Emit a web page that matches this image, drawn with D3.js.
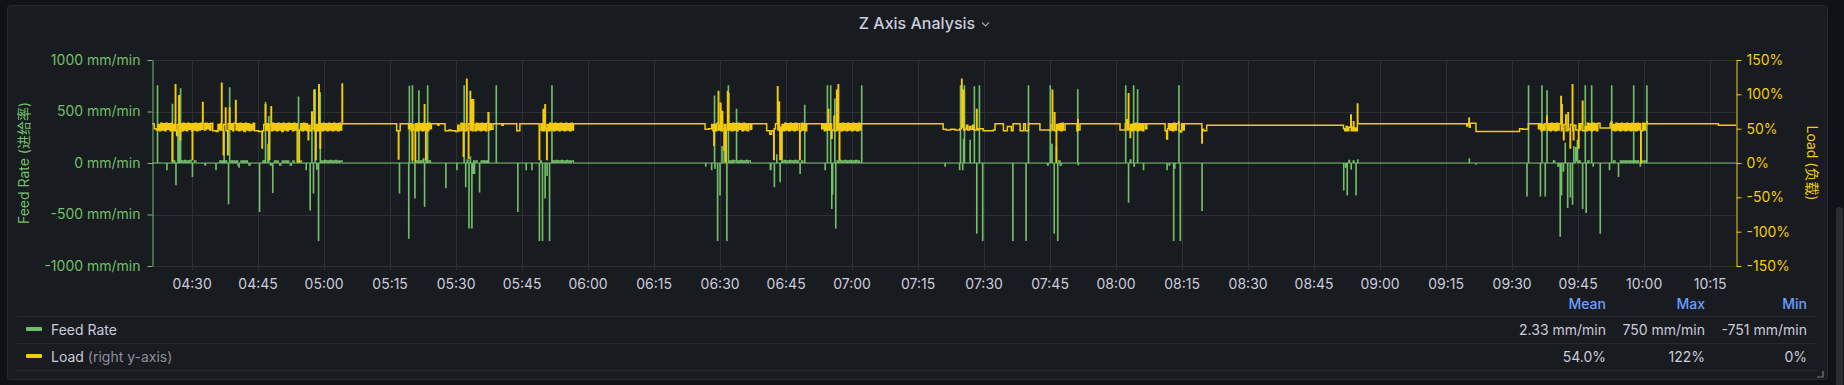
<!DOCTYPE html>
<html><head><meta charset="utf-8">
<script src="https://cdn.jsdelivr.net/npm/d3@7"></script>
<style>
html,body{margin:0;padding:0;background:#111217;overflow:hidden;}
svg{display:block;font-family:Inter,"Noto Sans CJK SC",sans-serif;}
</style></head><body><svg id="c" width="1844" height="385"></svg>
<script>
// ---------- data (time = minutes after 04:00) ----------
const timeTicks = ["04:30","04:45","05:00","05:15","05:30","05:45","06:00","06:15","06:30","06:45","07:00","07:15","07:30","07:45","08:00","08:15","08:30","08:45","09:00","09:15","09:30","09:45","10:00","10:15"];
const feedTicks = [-1000,-500,0,500,1000];
const loadTicks = [-150,-100,-50,0,50,100,150];
const timeRange = [21, 381];
const seriesNames = ["Feed Rate","Load"];
const legendColumns = ["Mean","Max","Min"];
const feedStats = ["2.33 mm/min","750 mm/min","-751 mm/min"];
const loadStats = ["54.0%","122%","0%"];

const feedRate = [
[21.0,0],[22.2,750],[22.3,0],[24.35,-65],[24.45,0],[25.6,570],[25.7,0],[26.0,20],[26.2,0],[26.4,-210],[26.5,0],
[26.85,310],[26.95,0],[27.2,450],[27.3,0],[27.45,720],[27.55,0],[27.8,20],[28.1,0],[28.4,25],[28.7,0],[29.0,20],[29.3,0],[29.6,25],[29.9,0],
[30.15,-130],[30.25,0],[30.6,20],[31.0,0],[33.0,-20],[33.2,0],[35.5,-65],[35.6,0],[36.4,20],[36.7,0],[37.0,20],[37.2,0],
[37.35,300],[37.45,0],[37.7,20],[38.0,0],[38.35,-395],[38.45,0],[38.6,730],[38.7,0],[39.0,20],[39.3,0],[39.6,20],[39.9,0],[40.2,20],[40.5,-20],
[40.75,-40],[40.85,0],[41.2,20],[41.5,0],[41.8,20],[42.1,0],[42.4,20],[42.7,0],[43.0,-20],[43.3,0],[45.4,-470],[45.5,0],[46.2,20],[46.5,0],
[46.75,590],[46.85,0],[47.3,180],[47.4,0],[47.5,450],[47.6,0],[47.9,-20],[48.1,0],[48.4,-285],[48.5,0],[48.8,20],[49.1,0],[49.4,20],[49.7,0],
[50.0,-20],[50.3,0],[50.6,20],[50.9,0],[51.2,20],[51.5,0],[51.8,20],[52.1,0],[52.4,-20],[52.7,0],[53.0,20],[53.3,0],[54.25,640],[54.35,0],
[54.7,20],[55.0,0],[56.0,-65],[56.1,0],[56.9,-455],[57.0,0],[57.3,500],[57.4,0],[57.65,-290],[57.75,0],[58.05,710],[58.15,0],[58.4,-60],[58.5,0],
[58.8,-751],[58.9,0],[59.2,680],[59.3,0],[59.6,20],[59.9,0],[60.2,25],[60.5,0],[60.8,20],[61.1,0],[61.4,25],[61.7,0],[62.0,20],[62.3,0],
[62.6,25],[62.9,0],[63.2,20],[63.5,0],[63.8,20],[64.2,0],
[77.2,-290],[77.3,0],[79.3,-730],[79.4,0],[79.45,745],[79.55,0],[80.15,750],[80.25,0],[80.7,-340],[80.8,0],[81.0,20],[81.3,0],[81.6,700],[81.7,0],
[82.0,20],[82.3,0],[82.6,40],[82.8,0],[82.9,-420],[83.0,0],[83.25,100],[83.35,0],[83.6,750],[83.7,0],[84.0,20],[84.3,0],[87.75,-240],[87.85,0],
[90.25,-65],[90.35,0],[91.9,750],[92.0,0],[92.25,-230],[92.35,0],[92.6,30],[92.8,0],[93.0,-630],[93.1,0],[93.3,60],[93.4,0],[93.65,-630],[93.75,0],
[94.0,-100],[94.1,20],[94.25,-100],[94.35,0],[94.6,20],[94.9,0],[95.4,-280],[95.5,0],[95.8,20],[96.1,0],[96.4,20],[96.7,0],[97.0,20],[97.2,0],
[97.45,490],[97.55,0],[99.2,750],[99.3,0],[104.1,-470],[104.2,0],[106.0,-65],[106.1,0],[107.3,-65],[107.4,0],[109.0,-751],[109.1,0],[109.3,20],[109.5,0],
[109.7,-751],[109.8,0],[110.3,-340],[110.4,0],[110.75,-120],[110.85,0],[111.3,-751],[111.4,0],[111.85,750],[111.95,0],[112.2,20],[112.5,0],[112.8,25],[113.1,0],
[113.4,20],[113.7,0],[114.0,25],[114.3,0],[114.6,20],[114.9,0],[115.2,25],[115.5,0],[115.8,20],[116.1,0],[116.4,20],[116.8,0],
[146.8,-30],[146.9,0],[148.15,-65],[148.25,0],[148.8,650],[148.9,-50],[149.0,0],[149.5,-751],[149.6,0],[150.05,-310],[150.15,0],[150.5,160],[150.6,0],
[151.0,150],[151.1,0],[151.6,-751],[151.7,0],[151.95,750],[152.05,0],[152.3,20],[152.6,0],[152.9,25],[153.2,0],[153.5,20],[153.8,520],[153.9,0],
[154.2,20],[154.5,0],[154.8,25],[155.1,0],[155.4,20],[155.7,0],[156.0,25],[156.3,0],[156.6,20],[157.0,0],[161.5,-65],[161.7,0],[162.4,-230],[162.5,0],
[162.95,80],[163.05,0],[163.7,-180],[163.8,0],[164.1,20],[164.4,0],[164.7,25],[165.0,0],[165.3,20],[165.6,0],[165.9,25],[166.2,0],[166.5,20],[166.8,0],
[167.1,25],[167.4,0],[167.7,20],[168.0,0],[168.25,-100],[168.35,0],[168.6,20],[168.9,0],[169.3,560],[169.4,0],[173.95,-65],[174.05,0],[174.45,750],[174.55,0],
[175.2,750],[175.3,0],[175.45,-440],[175.55,0],[175.65,-300],[175.75,0],[176.15,620],[176.25,0],[176.35,-630],[176.45,0],[176.7,20],[177.0,0],[177.3,25],[177.6,0],
[177.9,20],[178.2,0],[178.5,25],[178.8,0],[179.1,20],[179.4,0],[179.7,25],[180.0,0],[180.3,20],[180.6,0],[180.9,25],[181.2,0],[181.5,20],[181.8,0],
[182.25,750],[182.35,0],
[201.2,-30],[201.3,0],[204.5,-65],[204.6,0],[204.7,750],[204.8,0],[205.2,-65],[205.3,0],[205.4,230],[205.5,0],[205.6,750],[205.7,0],[206.9,220],[207.0,0],
[207.85,740],[207.95,0],[208.4,-680],[208.5,0],[209.0,750],[209.1,0],[209.75,-751],[209.85,0],[216.6,-751],[216.7,0],[219.6,-751],[219.7,0],[220.15,750],[220.25,0],
[224.5,-20],[224.7,0],[225.1,750],[225.2,0],[225.5,180],[225.6,0],[226.0,-680],[226.1,0],[226.5,160],[226.6,0],[226.8,-751],[226.9,0],[227.1,20],[227.4,-20],[227.7,0],
[231.35,710],[231.45,-15],[231.6,0],[242.25,750],[242.35,0],[242.9,-380],[243.0,0],[243.3,30],[243.5,0],[244.05,750],[244.15,-30],[244.3,0],[244.95,710],[245.05,0],
[246.3,-65],[246.4,0],[251.65,-65],[251.75,0],[252.15,-20],[252.3,0],[253.15,-751],[253.25,0],[253.4,-50],[253.5,0],[254.35,750],[254.45,0],[254.65,-751],[254.75,0],
[259.6,-460],[259.7,0],
[291.8,-260],[291.9,0],[292.25,-40],[292.4,0],[292.6,-310],[292.7,0],[293.0,25],[293.2,0],[293.5,-60],[293.6,0],[294.0,20],[294.2,0],[294.6,-310],[294.7,0],[295.0,30],[295.1,0],
[320.35,40],[320.45,0],[321.9,-10],[322.0,0],[333.45,-320],[333.55,0],[333.8,750],[333.9,0],[336.5,-320],[336.6,0],[336.85,750],[336.95,0],[337.6,-320],[337.7,0],
[338.0,700],[338.1,0],[339.5,20],[339.8,0],[340.5,-30],[340.7,0],[341.0,-710],[341.1,0],[341.3,-310],[341.4,0],[341.75,-80],[341.85,0],[342.15,190],[342.25,0],
[342.7,-430],[342.8,0],[343.3,-330],[343.4,0],[343.8,-400],[343.9,0],[344.1,160],[344.2,0],[344.55,150],[344.65,20],[344.9,220],[345.0,0],[345.3,20],[345.6,0],
[346.1,-440],[346.2,0],[346.7,750],[346.8,0],[346.9,-480],[347.0,0],[347.3,20],[347.6,0],[348.15,750],[348.25,0],[348.5,-30],[348.6,0],[350.1,-680],[350.2,0],
[352.2,-65],[352.3,0],[352.7,750],[352.8,0],[353.2,20],[353.5,0],[354.25,-130],[354.35,0],[354.7,20],[355.0,0],[355.3,20],[355.6,0],[355.9,20],[356.2,0],
[356.5,20],[356.8,0],[357.1,20],[357.4,0],[357.7,750],[357.8,0],[358.0,20],[358.3,0],[358.6,20],[358.9,0],[359.2,-30],[359.3,0],[359.6,20],[359.9,0],
[360.2,20],[360.5,0],[360.7,750],[360.8,0],[381.0,0]
];

const load = [
[21.0,57],[21.5,50],[22.0,48],[22.4,56],[22.7,47],[23.0,58],[23.3,48],[23.6,57],[23.9,47],[24.2,58],[24.5,49],[24.8,57],[25.1,47],[25.4,58],[25.6,3],[25.7,56],
[26.0,47],[26.3,114],[26.4,48],[26.6,40],[26.8,56],[27.1,98],[27.2,47],[27.4,34],[27.5,57],[27.8,47],[28.1,58],[28.3,48],[28.6,57],[28.8,47],[29.1,58],[29.4,49],
[29.7,57],[30.0,47],[30.15,5],[30.25,57],[30.5,48],[30.8,58],[31.1,47],[31.4,57],[31.7,48],[32.0,58],[32.3,49],[32.5,88],[32.6,57],[32.9,48],[33.2,58],[33.5,50],
[33.8,57],[34.1,48],[34.4,58],[34.8,47],[35.6,46],[36.0,56],[36.3,48],[36.6,57],[36.8,116],[36.9,48],[37.2,12],[37.3,56],[37.7,80],[37.8,47],[38.2,12],[38.3,57],
[38.6,80],[38.7,49],[39.0,57],[39.3,47],[39.6,58],[40.0,91],[40.1,48],[40.4,57],[40.7,47],[41.0,58],[41.3,48],[41.6,57],[41.9,46],[42.2,58],[42.5,48],[42.8,57],
[43.1,47],[43.4,56],[43.7,48],[44.0,58],[44.3,47],[45.2,46],[46.0,22],[46.1,47],[46.4,56],[46.75,85],[46.85,48],[47.1,57],[47.4,47],[47.65,5],[47.75,56],[48.05,82],
[48.15,47],[48.4,58],[48.7,48],[49.0,57],[49.3,47],[49.6,58],[49.9,48],[50.2,57],[50.5,46],[50.8,58],[51.1,48],[51.4,57],[51.7,47],[52.0,58],[52.3,49],[52.6,57],
[52.9,47],[53.2,58],[53.5,48],[53.8,57],[54.0,2],[54.5,48],[54.8,57],[55.1,47],[55.4,58],[55.7,48],[56.0,57],[56.3,47],[56.5,34],[56.6,55],[56.9,47],[57.3,73],
[57.4,50],[57.8,106],[57.9,47],[58.2,5],[58.3,56],[58.6,47],[58.9,114],[59.0,48],[59.2,22],[59.3,57],[59.6,47],[59.9,58],[60.2,48],[60.5,57],[60.8,47],[61.1,58],
[61.4,48],[61.7,57],[62.0,47],[62.3,58],[62.6,48],[62.9,57],[63.2,47],[63.5,58],[63.8,48],[64.1,56],[64.2,115],[64.3,57],
[76.6,47],[77.0,6],[77.1,47],[77.4,57],
[79.3,50],[79.6,57],[79.9,47],[80.15,5],[80.25,56],[80.5,48],[80.8,2],[80.9,57],[81.2,47],[81.5,58],[81.8,48],[82.1,57],[82.4,47],[82.7,58],[82.9,85],[83.0,48],
[83.2,5],[83.3,57],[83.6,47],[83.9,58],[84.2,50],[84.5,57],[86.0,55],[86.2,57],[87.6,47],[88.5,48],[89.0,47],[90.0,46],[90.5,55],[90.8,47],[91.2,58],[91.5,48],
[91.75,10],[91.85,57],[92.1,47],[92.5,122],[92.6,49],[92.9,7],[93.0,57],[93.3,104],[93.4,48],[93.65,92],[93.75,47],[94.0,92],[94.1,56],[94.4,47],[94.7,58],[95.0,48],
[95.3,57],[95.6,47],[95.9,58],[96.2,48],[96.5,57],[96.8,47],[97.1,58],[97.4,73],[97.5,48],[97.8,57],[98.1,49],[98.5,57],[100.5,55],[100.8,57],[103.9,47],[104.6,57],
[109.0,5],[109.1,48],[109.4,57],[109.7,47],[109.9,78],[110.0,47],[110.3,85],[110.4,50],[110.7,5],[110.8,56],[111.1,47],[111.4,58],[111.7,48],[112.0,57],[112.3,47],
[112.6,58],[112.9,48],[113.2,57],[113.5,47],[113.8,58],[114.1,48],[114.4,57],[114.7,47],[115.0,58],[115.3,48],[115.6,57],[115.9,47],[116.2,58],[116.5,48],[116.8,57],
[146.7,49],[147.5,50],[148.2,56],[148.5,47],[148.7,26],[148.8,56],[149.1,47],[149.4,58],[149.7,104],[149.8,48],[150.0,55],[150.2,87],[150.3,47],[150.6,75],[150.7,50],
[151.0,19],[151.1,56],[151.4,2],[151.5,48],[151.8,104],[151.9,56],[152.0,101],[152.1,48],[152.4,57],[152.7,47],[153.0,58],[153.3,48],[153.6,57],[153.9,47],[154.2,58],
[154.5,49],[154.8,57],[155.1,47],[155.4,58],[155.7,48],[156.0,57],[156.3,47],[156.6,57],[157.0,49],[157.3,57],[160.7,47],[161.4,42],[161.8,47],[162.3,5],[162.4,50],
[162.7,57],[163.15,111],[163.25,48],[163.5,89],[163.6,47],[163.7,5],[163.8,52],[164.1,5],[164.2,56],[164.5,47],[164.8,58],[165.1,48],[165.4,57],[165.7,47],[166.0,58],
[166.3,48],[166.6,57],[166.9,47],[167.2,58],[167.5,48],[167.8,57],[168.2,5],[168.3,47],[168.6,58],[168.9,48],[169.2,57],[169.5,47],[169.8,57],[173.2,50],[173.5,57],
[173.8,47],[174.1,57],[174.4,48],[174.7,78],[174.8,48],[175.1,57],[175.45,36],[175.55,48],[176.0,68],[176.1,47],[176.6,106],[176.7,48],[176.95,114],[177.05,50],[177.2,5],
[177.3,57],[177.6,47],[177.9,58],[178.2,48],[178.5,57],[178.8,47],[179.1,58],[179.4,48],[179.7,57],[180.0,47],[180.3,58],[180.6,48],[180.9,57],[181.2,47],[181.5,58],
[181.8,48],[182.1,57],
[200.8,49],[201.5,48],[202.5,49],[203.5,48],[204.6,50],[205.0,122],[205.1,52],[205.4,106],[205.5,48],[205.75,49],[206.1,55],[206.4,48],[206.8,53],[207.1,49],[207.5,55],
[207.8,48],[208.4,78],[208.5,48],[208.8,50],[209.9,47],[212.2,48],[212.6,57],[214.5,47],[215.4,53],[216.3,47],[216.7,57],[218.3,47],[219.1,57],[219.5,47],[220.2,57],
[222.8,48],[225.1,47],[225.3,55],[225.6,106],[225.7,48],[226.1,73],[226.2,47],[226.5,2],[226.6,56],[226.9,48],[227.2,57],[227.5,47],[227.8,58],[228.1,48],[228.5,57],
[231.2,47],[231.4,63],[231.5,48],[231.9,57],[241.0,48],[242.2,57],[242.5,63],[242.6,48],[242.9,101],[243.0,50],[243.3,37],[243.4,56],[243.7,47],[244.0,57],[244.3,48],
[244.6,58],[244.9,47],[245.2,57],[245.5,48],[245.8,57],[246.1,47],[246.4,57],[246.8,50],[247.1,57],[251.25,47],[251.6,35],[251.8,50],[252.0,57],[252.3,48],[252.6,57],
[252.9,47],[253.2,58],[253.5,48],[253.8,57],[254.3,60],[254.4,47],[254.7,45],[255.0,57],[255.3,48],[255.6,57],[259.6,29],[259.7,49],[260.0,47],[260.7,55],
[291.8,50],[292.1,47],[292.4,53],[292.7,47],[293.0,52],[293.45,70],[293.55,47],[293.8,52],[294.05,60],[294.15,47],[294.4,51],[294.7,47],[294.95,86],[295.05,57],
[319.8,54],[320.0,57],[320.3,65],[320.4,52],[320.6,58],[321.9,46],[331.8,50],[332.5,49],[333.8,57],[336.1,50],[336.4,57],[336.7,47],[337.0,56],[337.3,48],[337.6,57],
[338.0,68],[338.1,48],[338.4,57],[338.7,47],[339.0,58],[339.3,48],[339.6,57],[339.9,47],[340.2,58],[340.5,48],[340.8,57],[341.2,97],[341.3,47],[341.4,85],[341.5,50],
[341.8,34],[341.9,56],[342.3,70],[342.4,47],[342.8,73],[342.9,49],[343.3,22],[343.4,56],[343.8,114],[343.9,47],[344.05,34],[344.15,55],[344.6,48],[345.2,22],[345.3,57],
[345.55,48],[345.8,57],[346.1,90],[346.2,47],[346.7,53],[346.9,47],[347.2,58],[347.5,48],[347.8,57],[348.1,47],[348.4,58],[348.7,48],[349.0,57],[349.3,47],[349.6,58],
[350.1,51],[352.4,57],[352.6,60],[352.8,48],[353.1,56],[353.4,47],[353.7,58],[354.0,48],[354.3,57],[354.6,47],[354.9,58],[355.2,48],[355.5,57],[355.8,47],[356.1,58],
[356.4,48],[356.7,57],[357.0,47],[357.3,58],[357.6,48],[357.9,57],[358.2,47],[358.5,58],[358.8,48],[359.1,57],[359.35,0],[359.45,47],[359.8,58],[360.1,48],[360.4,57],
[360.7,60],[360.8,57],[377.0,55],[381.0,55]
];

// ---------- drawing ----------
const W = 1844, H = 385;
const colFeed = "#73bf69", colLoad = "#f2cc0c";
const textCol = "#ccccdc", gridCol = "#2c2f34";
const base = new Date(2024, 0, 1, 4, 0, 0);
const toDate = m => new Date(base.getTime() + m * 60000);
const parseTick = s => { const [h, m] = s.split(":").map(Number); return toDate((h - 4) * 60 + m); };

const plot = {left: 152, right: 1736, top: 60, bottom: 266};
const x = d3.scaleTime().domain(timeRange.map(toDate)).range([plot.left, plot.right]);
const yFeed = d3.scaleLinear().domain([-1000, 1000]).range([plot.bottom, plot.top]);
const yLoad = d3.scaleLinear().domain([-150, 150]).range([plot.bottom, plot.top]);

const svg = d3.select("#c");
svg.append("rect").attr("width", W).attr("height", H).attr("fill", "#111217");
svg.append("rect").attr("x", 7.5).attr("y", 5.5).attr("width", 1820).attr("height", 374)
  .attr("rx", 3).attr("fill", "#181b1f").attr("stroke", "#25282d");
// scrollbar thumb
svg.append("rect").attr("x", 1836).attr("y", 207).attr("width", 7).attr("height", 200).attr("rx", 3.5).attr("fill", "#2a2c31");

// title
svg.append("text").attr("x", 917).attr("y", 23).attr("text-anchor", "middle").attr("dominant-baseline", "central")
  .attr("fill", textCol).attr("font-size", 16).attr("font-weight", 500).text("Z Axis Analysis");
svg.append("path").attr("d", "M982,22.5 l3.5,3.5 l3.5,-3.5").attr("fill", "none").attr("stroke", "#9fa1ad").attr("stroke-width", 1.2);

// grid
const g = svg.append("g");
g.selectAll("line.h").data(feedTicks).join("line")
  .attr("x1", plot.left).attr("x2", plot.right).attr("y1", d => Math.round(yFeed(d)) + 0.5).attr("y2", d => Math.round(yFeed(d)) + 0.5)
  .attr("stroke", gridCol);
g.selectAll("line.v").data(timeTicks.map(parseTick)).join("line")
  .attr("y1", plot.top).attr("y2", plot.bottom + 4).attr("x1", d => Math.round(x(d)) + 0.5).attr("x2", d => Math.round(x(d)) + 0.5)
  .attr("stroke", gridCol);

// series
const clip = svg.append("clipPath").attr("id", "clp").append("rect")
  .attr("x", plot.left).attr("y", plot.top - 2).attr("width", plot.right - plot.left).attr("height", plot.bottom - plot.top + 4);
const lineFeed = d3.line().x(d => x(toDate(d[0]))).y(d => yFeed(d[1])).curve(d3.curveStepAfter);
const lineLoad = d3.line().x(d => x(toDate(d[0]))).y(d => yLoad(d[1])).curve(d3.curveStepAfter);
const sg = svg.append("g").attr("clip-path", "url(#clp)");
sg.append("path").attr("d", lineFeed(feedRate)).attr("fill", "none").attr("stroke", colFeed).attr("stroke-width", 1.2);
sg.append("path").attr("d", lineLoad(load)).attr("fill", "none").attr("stroke", colLoad).attr("stroke-width", 1.5);

// axes
const axL = svg.append("g").attr("transform", `translate(${plot.left + 0.5},0)`)
  .call(d3.axisLeft(yFeed).tickValues(feedTicks).tickSize(5).tickSizeOuter(0).tickPadding(7).tickFormat(d => d + " mm/min"));
axL.select(".domain").attr("stroke", colFeed);
axL.selectAll(".tick line").attr("stroke", colFeed);
axL.selectAll("text").attr("fill", colFeed).attr("font-size", 14).attr("font-family", "Inter");

const axR = svg.append("g").attr("transform", `translate(${plot.right + 0.5},0)`)
  .call(d3.axisRight(yLoad).tickValues(loadTicks).tickSize(5).tickSizeOuter(0).tickPadding(5).tickFormat(d => d + "%"));
axR.select(".domain").attr("stroke", colLoad);
axR.selectAll(".tick line").attr("stroke", colLoad);
axR.selectAll("text").attr("fill", colLoad).attr("font-size", 14).attr("font-family", "Inter");

const axB = svg.append("g").attr("transform", `translate(0,${plot.bottom})`)
  .call(d3.axisBottom(x).tickValues(timeTicks.map(parseTick)).tickSize(0).tickFormat(d3.timeFormat("%H:%M")));
axB.select(".domain").remove();
axB.selectAll("text").attr("y", 17).attr("dy", null).attr("dominant-baseline", "central")
  .attr("fill", textCol).attr("font-size", 14).attr("font-family", "Inter");

// axis titles
svg.append("text").attr("transform", "translate(23,163) rotate(-90)").attr("text-anchor", "middle").attr("dominant-baseline", "central")
  .attr("fill", colFeed).attr("font-size", 14).text("Feed Rate (进给率)");
svg.append("text").attr("transform", "translate(1812,163) rotate(90)").attr("text-anchor", "middle").attr("dominant-baseline", "central")
  .attr("fill", colLoad).attr("font-size", 14).text("Load (负载)");

// legend
const colX = [1606, 1705, 1807];
const lg = svg.append("g").attr("font-size", 14);
lg.selectAll("text.h").data(legendColumns).join("text").attr("x", (d, i) => colX[i]).attr("y", 303)
  .attr("text-anchor", "end").attr("dominant-baseline", "central").attr("fill", "#6e9fff").attr("font-weight", 500).text(d => d);
[316.5, 343.5, 370.5].forEach(yy => lg.append("line").attr("x1", 17).attr("x2", 1817).attr("y1", yy).attr("y2", yy).attr("stroke", "#25282d"));
const rows = [{name: seriesNames[0], col: colFeed, stats: feedStats, y: 329, extra: ""},
              {name: seriesNames[1], col: colLoad, stats: loadStats, y: 356, extra: " (right y-axis)"}];
rows.forEach(r => {
  lg.append("rect").attr("x", 26).attr("y", r.y - 2).attr("width", 16).attr("height", 4).attr("rx", 1).attr("fill", r.col);
  const t = lg.append("text").attr("x", 51).attr("y", r.y).attr("dominant-baseline", "central").attr("fill", textCol).text(r.name);
  if (r.extra) t.append("tspan").attr("fill", "#8e8e9c").text(r.extra);
  r.stats.forEach((s, i) => lg.append("text").attr("x", colX[i]).attr("y", r.y).attr("text-anchor", "end")
    .attr("dominant-baseline", "central").attr("fill", textCol).text(s));
});
// resize handle
svg.append("path").attr("d", "M1823,371 V377 H1817").attr("fill", "none").attr("stroke", "#7b7d87").attr("stroke-width", 1.2);
</script></body></html>
